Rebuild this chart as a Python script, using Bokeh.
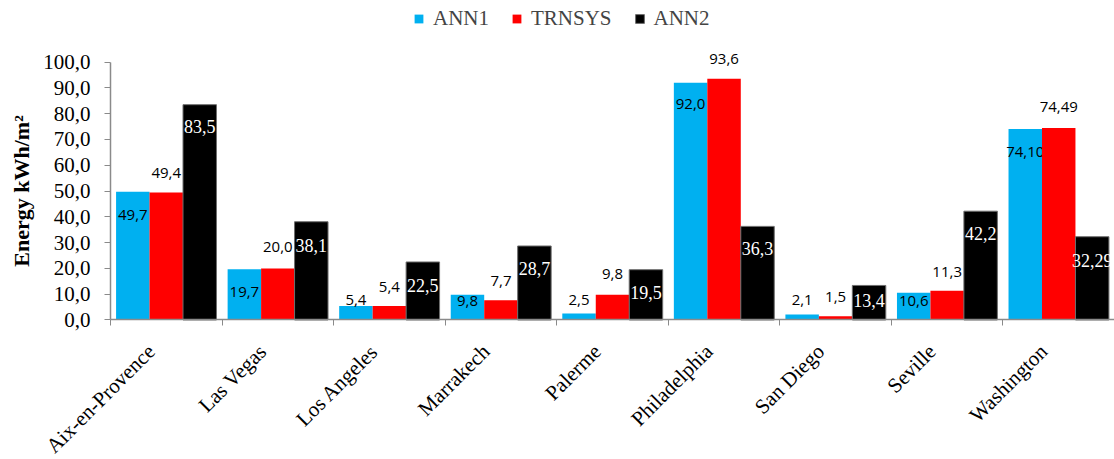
import numpy as np
from bokeh.plotting import figure
from bokeh.models import (ColumnDataSource, Range1d, FixedTicker, CustomJSTickFormatter,
                          Legend, LegendItem)
from bokeh.core.properties import value
from bokeh.embed import file_html
from bokeh.resources import INLINE

# ---------------- data ----------------
cities = ["Aix-en-Provence", "Las Vegas", "Los Angeles", "Marrakech", "Palerme",
          "Philadelphia", "San Diego", "Seville", "Washington"]
ann1 = [49.7, 19.7, 5.4, 9.8, 2.5, 92.0, 2.1, 10.6, 74.10]
trnsys = [49.4, 20.0, 5.4, 7.7, 9.8, 93.6, 1.5, 11.3, 74.49]
ann2 = [83.5, 38.1, 22.5, 28.7, 19.5, 36.3, 13.4, 42.2, 32.29]
decimals = [1, 1, 1, 1, 1, 1, 1, 1, 2]
series_names = ["ANN1", "TRNSYS", "ANN2"]
y_ticks = [0, 10, 20, 30, 40, 50, 60, 70, 80, 90, 100]

# data-label anchor heights (data units), as placed in the original chart
ann1_label_y = [40.9, 10.8, 7.6, 7.2, 7.6, 83.9, 7.6, 7.3, 65.1]
trnsys_label_y = [56.9, 28.2, 12.7, 15.3, 17.9, 101.3, 8.8, 18.5, 82.5]
ann2_label_y = [75.1, 28.9, 13.4, 19.9, 10.8, 27.6, 7.6, 33.4, 23.1]

# ---------------- styles ----------------
colors = ["#00B0F0", "#FF0000", "#000000"]
SERIF = "Liberation Serif"
AXIS_COL = "#8a8a8a"


def fmt(v, d):
    return f"{v:.{d}f}".replace(".", ",")


n = len(cities)
centers = np.arange(n) + 0.5
offsets = [-0.3, 0.0, 0.3]
bar_w = 0.3

# the frame fills the whole figure; both axes are pinned at the data origin
p = figure(width=1114, height=459, output_backend="svg", toolbar_location=None,
           x_range=Range1d(-0.986, n), y_range=Range1d(-54.1, 123.9),
           min_border_left=0, min_border_right=0, min_border_top=0, min_border_bottom=0)
p.outline_line_color = None
p.xgrid.grid_line_color = None
p.ygrid.grid_line_color = None
p.background_fill_color = "white"
p.border_fill_color = "white"

renderers = []
all_vals = [ann1, trnsys, ann2]
all_label_y = [ann1_label_y, trnsys_label_y, ann2_label_y]
for k, (vals, ly) in enumerate(zip(all_vals, all_label_y)):
    src = ColumnDataSource(dict(
        x=centers + offsets[k],
        top=vals,
        ly=ly,
        lab=[fmt(v, d) for v, d in zip(vals, decimals)],
    ))
    if k == 2:
        r = p.vbar(x="x", top="top", bottom=0, width=bar_w, source=src, fill_color=colors[k],
                   line_color="#6e6e6e", line_width=1)
    else:
        r = p.vbar(x="x", top="top", bottom=0, width=bar_w, source=src, fill_color=colors[k],
                   line_color=None)
    renderers.append(r)
    if k == 2:
        p.text(x="x", y="ly", text="lab", source=src, text_align="center",
               text_baseline="middle", text_color="white",
               text_font=value(SERIF), text_font_size=value("18px"))
    else:
        p.text(x="x", y="ly", text="lab", source=src, text_align="center",
               text_baseline="middle", text_color="black",
               text_font=value("Open Sans"), text_font_size=value("15px"))

# category names, rotated 45 degrees under the axis
cat_src = ColumnDataSource(dict(x=centers, y=np.zeros(n), name=cities))
p.text(x="x", y="y", text="name", source=cat_src, angle=np.pi / 4,
       x_offset=-15, y_offset=28, text_align="right", text_baseline="middle",
       text_color="black", text_font=value(SERIF), text_font_size=value("21px"))

# ---------------- axes ----------------
xa = p.xaxis[0]
xa.fixed_location = 0
xa.bounds = (0, n)
xa.ticker = FixedTicker(ticks=list(centers), minor_ticks=list(range(n + 1)))
xa.formatter = CustomJSTickFormatter(code="return '';")
xa.major_tick_out = 0
xa.major_tick_in = 0
xa.minor_tick_out = 6
xa.minor_tick_in = 0
xa.minor_tick_line_color = AXIS_COL
xa.axis_line_color = AXIS_COL
xa.axis_line_width = 1.5

ya = p.yaxis[0]
ya.fixed_location = 0
ya.ticker = FixedTicker(ticks=y_ticks, minor_ticks=[])
ya.formatter = CustomJSTickFormatter(code="return tick.toFixed(1).replace('.', ',');")
ya.bounds = (0, 100)
ya.major_tick_out = 6
ya.major_tick_in = 0
ya.major_tick_line_color = AXIS_COL
ya.axis_line_color = AXIS_COL
ya.axis_line_width = 1.5
ya.major_label_standoff = 14
ya.major_label_text_font = SERIF
ya.major_label_text_font_size = "21px"
ya.major_label_text_color = "black"
ya.axis_label = "Energy kWh/m²"
ya.axis_label_text_font = SERIF
ya.axis_label_text_font_style = "bold"
ya.axis_label_text_font_size = "22px"
ya.axis_label_text_color = "black"
ya.axis_label_standoff = 6

# ---------------- legend ----------------
legend = Legend(items=[LegendItem(label=s, renderers=[r]) for s, r in zip(series_names, renderers)],
                orientation="horizontal", location=(413, 428), padding=0, margin=0,
                spacing=22, glyph_width=11, glyph_height=11, label_standoff=9,
                label_text_font=SERIF, label_text_font_size="21px",
                border_line_color=None, background_fill_alpha=0)
p.add_layout(legend)

open("out.html", "w").write(file_html(p, INLINE))
